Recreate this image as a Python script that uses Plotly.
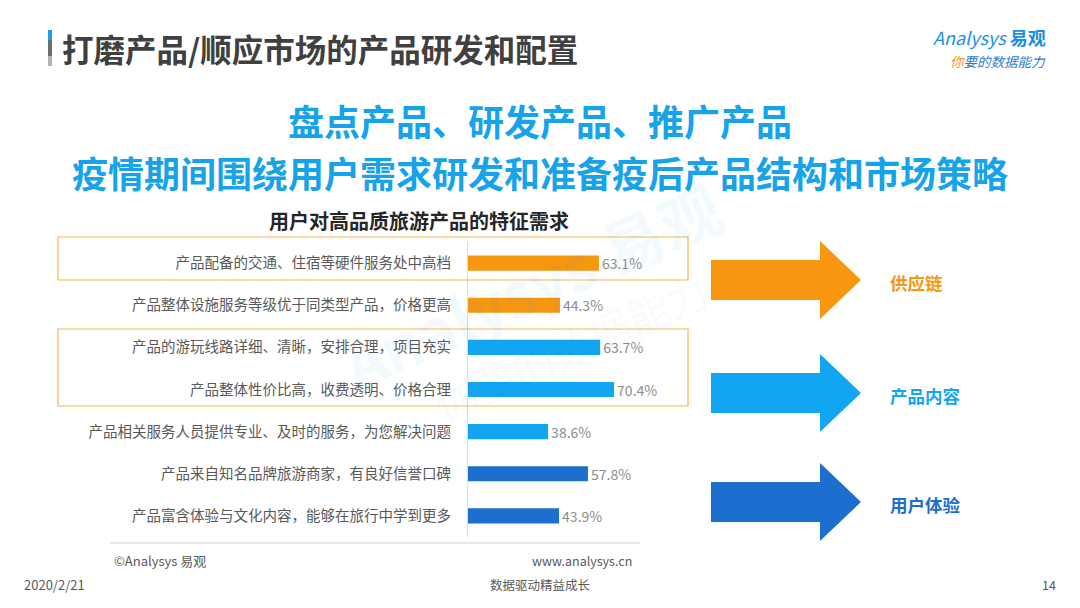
import plotly.graph_objects as go

# ---- data ----
categories = [
    "产品配备的交通、住宿等硬件服务处中高档",
    "产品整体设施服务等级优于同类型产品，价格更高",
    "产品的游玩线路详细、清晰，安排合理，项目充实",
    "产品整体性价比高，收费透明、价格合理",
    "产品相关服务人员提供专业、及时的服务，为您解决问题",
    "产品来自知名品牌旅游商家，有良好信誉口碑",
    "产品富含体验与文化内容，能够在旅行中学到更多",
]
values = [63.1, 44.3, 63.7, 70.4, 38.6, 57.8, 43.9]
groups = ["供应链", "供应链", "产品内容", "产品内容", "产品内容", "用户体验", "用户体验"]
group_names = ["供应链", "产品内容", "用户体验"]

ORANGE = "#F7960F"
LIGHT_BLUE = "#12A5F2"
DARK_BLUE = "#1C6ECF"
group_colors = {"供应链": ORANGE, "产品内容": LIGHT_BLUE, "用户体验": DARK_BLUE}

# the page body keeps its default 8px margin, so the figure is drawn 8px in
PAD = 8
W, H = 1080 - 2 * PAD, 608 - 2 * PAD
FONT = "Noto Sans CJK SC"


def px(x):
    return (x - PAD) / W


def py(y):
    return 1 - (y - PAD) / H


fig = go.Figure()
fig.add_trace(go.Bar(
    x=values,
    y=categories,
    orientation="h",
    marker=dict(color=[group_colors[g] for g in groups], line=dict(width=0)),
    text=[f"{v:.1f}%" for v in values],
    textposition="outside",
    constraintext="none",
    textfont=dict(size=14, color="#8C8C8C", family=FONT),
    cliponaxis=False,
    width=0.36,
    hoverinfo="skip",
))

fig.update_xaxes(
    domain=[px(468), px(688)],
    range=[0, 220 / 2.075],
    visible=False,
)
fig.update_yaxes(
    domain=[py(537), py(242)],
    autorange="reversed",
    showline=True,
    linecolor="#DCDCDC",
    linewidth=1,
    showgrid=False,
    ticks="",
    ticklabelstandoff=13,
    tickfont=dict(size=14.5, color="#595959", family=FONT),
)

shapes = []
# title accent bar
shapes.append(dict(type="rect", xref="paper", yref="paper", x0=px(48), x1=px(52),
                   y0=py(40), y1=py(30), fillcolor="#1AA0E8", line=dict(width=0)))
shapes.append(dict(type="rect", xref="paper", yref="paper", x0=px(48), x1=px(52),
                   y0=py(56), y1=py(40), fillcolor="#6E6E6E", line=dict(width=0)))
shapes.append(dict(type="rect", xref="paper", yref="paper", x0=px(48), x1=px(52),
                   y0=py(66), y1=py(56), fillcolor="#B4B4B4", line=dict(width=0)))
# highlight boxes
for top, bottom in [(237, 280), (329, 406)]:
    shapes.append(dict(type="rect", xref="paper", yref="paper", x0=px(58), x1=px(688),
                       y0=py(bottom), y1=py(top), line=dict(color="#F7B455", width=1.2),
                       fillcolor="rgba(0,0,0,0)"))
# bottom separator
shapes.append(dict(type="line", xref="paper", yref="paper", x0=px(110), x1=px(640),
                   y0=py(543), y1=py(543), line=dict(color="#D0D0D0", width=1)))

# block arrows
arrow_tips = {"供应链": 280, "产品内容": 393, "用户体验": 502}
for g in group_names:
    cy = arrow_tips[g]
    pts = [(711, cy - 20), (820, cy - 20), (820, cy - 39), (861, cy),
           (820, cy + 39), (820, cy + 20), (711, cy + 20)]
    path = "M " + " L ".join(f"{px(x):.5f},{py(y):.5f}" for x, y in pts) + " Z"
    shapes.append(dict(type="path", xref="paper", yref="paper", path=path,
                       fillcolor=group_colors[g], line=dict(width=0)))

fig.update_layout(shapes=shapes)

ann = []


def text(x, y, s, size, color, xanchor="left", bold=False, family=FONT, **kw):
    ann.append(dict(x=px(x), y=py(y), xref="paper", yref="paper", text=f"<b>{s}</b>" if bold else s,
                    showarrow=False, xanchor=xanchor, yanchor="middle",
                    font=dict(size=size, color=color, family=family), **kw))


# watermark (drawn first so it sits underneath)
text(530, 285, "Analysys 易观", 62, "rgba(26,150,230,0.05)", xanchor="center", bold=True,
     textangle=-24)
text(570, 345, "你要的数据能力", 42, "rgba(26,150,230,0.05)", xanchor="center", textangle=-24)

text(60, 48, "打磨产品/顺应市场的产品研发和配置", 31.5, "#404040", bold=True)
text(540, 120, "盘点产品、研发产品、推广产品", 36, "#17A3EA", xanchor="center", bold=True)
text(540, 172, "疫情期间围绕用户需求研发和准备疫后产品结构和市场策略", 36, "#17A3EA",
     xanchor="center", bold=True)
text(419, 220, "用户对高品质旅游产品的特征需求", 20, "#262626", xanchor="center", bold=True)

for g in group_names:
    text(888, arrow_tips[g] + 2, g, 17.5, group_colors[g], bold=True)

# logo
text(1048, 37, "<i>Analysys</i> <b>易观</b>", 18, "#1A8FE0", xanchor="right")
text(1048, 61, "<i><span style='color:#F7960F'>你</span>要的数据能力</i>", 13.5, "#2E7FD0",
     xanchor="right")

# source & footer
text(112, 560, "©Analysys 易观", 13, "#595959")
text(634, 560, "www.analysys.cn", 12.5, "#595959", xanchor="right")
text(22, 584, "2020/2/21", 13, "#595959")
text(540, 584, "数据驱动精益成长", 12.5, "#595959", xanchor="center")
text(1058, 584, "14", 12.5, "#595959", xanchor="right")

fig.update_layout(
    annotations=ann,
    width=W,
    height=H,
    margin=dict(l=0, r=0, t=0, b=0),
    paper_bgcolor="white",
    plot_bgcolor="white",
    showlegend=False,
    bargap=0.64,
    font=dict(family=FONT),
)

fig.write_html("out.html")
